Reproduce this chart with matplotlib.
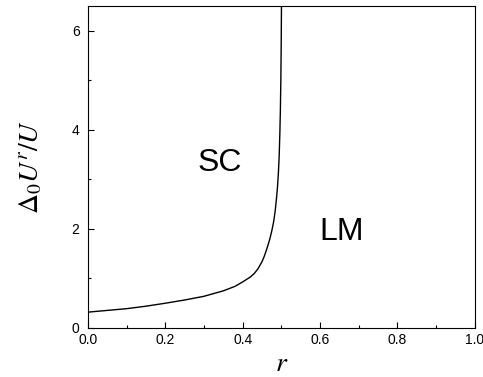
import numpy as np
import matplotlib.pyplot as plt
from matplotlib.ticker import MultipleLocator

plt.rcParams["font.family"] = ["Liberation Sans", "DejaVu Sans"]
plt.rcParams["mathtext.fontset"] = "stix"

### boundary between SC and LM phases
r_vals = [0.0, 0.05, 0.1, 0.15, 0.2, 0.25, 0.3, 0.35, 0.38, 0.4, 0.42, 0.43, 0.44,
          0.45, 0.455, 0.46, 0.465, 0.47, 0.475, 0.48, 0.484, 0.487, 0.49, 0.4925,
          0.4945, 0.4962, 0.4975, 0.4987, 0.4996, 0.5004]
d_vals = [0.32, 0.355, 0.39, 0.44, 0.50, 0.565, 0.64, 0.75, 0.84, 0.93, 1.03, 1.10, 1.20,
          1.34, 1.43, 1.54, 1.66, 1.79, 1.95, 2.14, 2.36, 2.58, 2.84, 3.15,
          3.5, 3.95, 4.4, 5.0, 5.7, 6.6]

phase_labels = ["SC", "LM"]
phase_pos = [(0.34, 3.33), (0.655, 1.94)]

fig = plt.figure(figsize=(4.83, 3.77), dpi=100)
ax = fig.add_axes([0.182, 0.130, 0.801, 0.854])

ax.plot(r_vals, d_vals, color="black", lw=1.0)

for lab, (px, py) in zip(phase_labels, phase_pos):
    ax.text(px, py, lab, fontsize=23, ha="center", va="center")

ax.set_xlim(0, 1.0)
ax.set_ylim(0, 6.5)
ax.xaxis.set_major_locator(MultipleLocator(0.2))
ax.xaxis.set_minor_locator(MultipleLocator(0.1))
ax.yaxis.set_major_locator(MultipleLocator(2))
ax.yaxis.set_minor_locator(MultipleLocator(1))
ax.tick_params(which="both", direction="in", labelsize=10)
ax.tick_params(which="major", length=4, width=0.8)
ax.tick_params(which="minor", length=2.5, width=0.8)
ax.tick_params(axis="y", pad=6)
ax.xaxis.set_major_formatter(plt.FormatStrFormatter("%.1f"))

ax.set_xlabel(r"$r$", fontsize=20, labelpad=3)
ax.set_ylabel(r"$\Delta_0U^r/U$", fontsize=20, labelpad=20)

plt.savefig("out.png", dpi=100)
